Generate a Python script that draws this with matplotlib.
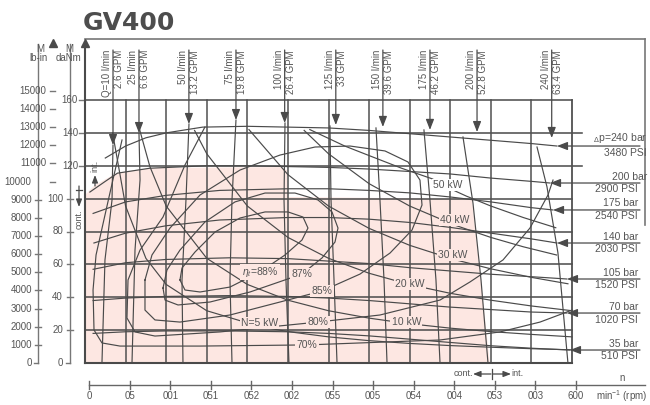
import matplotlib
matplotlib.use("Agg")
import matplotlib.pyplot as plt
from matplotlib.patches import Polygon

plt.rcParams['font.family'] = ['Liberation Sans', 'DejaVu Sans']
plt.rcParams['mathtext.fontset'] = 'custom'
plt.rcParams['mathtext.rm'] = 'Liberation Sans'
plt.rcParams['mathtext.it'] = 'Liberation Sans:italic'

# ---------------- data ----------------
title = "GV400"
rpm_ticks = [0, 50, 100, 150, 200, 250, 300, 350, 400, 450, 500, 550, 600]
rpm_tick_labels = ["0", "05", "001", "051", "052", "002", "055", "005",
                   "054", "004", "053", "003", "600"]
torque_ticks = [0, 20, 40, 60, 80, 100, 120, 140, 160]
lbin_ticks = [0, 1000, 2000, 3000, 4000, 5000, 6000, 7000, 8000, 9000,
              10000, 11000, 12000, 13000, 14000, 15000]
LBIN_TO_DANM = 0.01104

flow_lpm = [10, 25, 50, 75, 100, 125, 150, 175, 200, 240]
flow_gpm = ["2.6", "6.6", "13.2", "19.8", "26.4", "33", "39.6", "46.2", "52.8", "63.4"]
flow_arrow_rpm = [34.5, 66.5, 128, 186, 246, 309, 367, 425, 483, 575]
flow_arrow_T = [132.6, 139.9, 145.4, 147.8, 146.0, 144.8, 143.6, 141.8, 140.5, 136.9]

q10_rpm = [34.5, 33.3, 24.6, 20.9];      q10_T = [132.6, 99.2, 62.7, 0]
q25_rpm = [66.5, 67.8, 61.6, 57.9];      q25_T = [139.9, 111.3, 68.7, 0]
q50_rpm = [128.1, 124.4, 119.5, 120.7];  q50_T = [145.4, 99.2, 50.5, 0]
q75_rpm = [186.0, 181.1, 178.6, 181.1];  q75_T = [147.8, 99.2, 50.5, 0]
q100_rpm = [246.4, 245.2, 247.6, 251.3]; q100_T = [146.0, 99.2, 50.5, 0]
q125_rpm = [301.8, 303.1, 306.8, 310.5]; q125_T = [144.2, 99.2, 50.5, 0]
q150_rpm = [358.5, 363.4, 368.4, 372.1]; q150_T = [143.0, 99.2, 50.5, 0]
q175_rpm = [417.6, 425.0, 432.4, 437.4]; q175_T = [141.8, 99.2, 50.5, 0]
q200_rpm = [465.7, 478.0, 487.9, 496.5]; q200_T = [137.5, 97.3, 50.5, 0]
q240_rpm = [556.9, 569.2, 582.7, 595.0]; q240_T = [131.4, 107.1, 66.9, 0]

pressure_bar = [240, 200, 175, 140, 105, 70, 35]
pressure_psi = [3480, 2900, 2540, 2030, 1520, 1020, 510]
p240_rpm = [25, 50, 75, 100, 145, 200, 250, 300, 350, 400, 450, 500, 550, 581.5]
p240_T = [124.7, 132, 137, 140, 143.5, 144, 143.5, 143, 141.5, 139.5, 137.5, 135.5, 133.5, 132]
p200_rpm = [6, 25, 40, 80, 150, 200, 250, 300, 350, 400, 450, 500, 550, 572.9]
p200_T = [104, 110.5, 115.5, 118.5, 120, 120, 119.5, 119, 118, 116.5, 115, 112.5, 110.5, 109.5]
p175_rpm = [10, 50, 100, 166, 250, 300, 350, 400, 450, 500, 550, 576.6]
p175_T = [91, 98, 102, 105, 106, 106, 105, 103.5, 101, 98, 94.5, 93.1]
p140_rpm = [11, 50, 100, 166, 250, 300, 350, 400, 450, 500, 550, 581.5]
p140_T = [73, 79, 83.5, 87, 88.5, 88.5, 87.5, 85.5, 82.5, 79, 75.5, 73]
p105_rpm = [10, 50, 100, 178, 250, 300, 350, 400, 450, 500, 550, 593.8]
p105_T = [57, 61, 63, 64, 63.5, 62, 60.5, 58, 56, 54, 52.5, 51.1]
p70_rpm = [10, 50, 100, 178, 250, 300, 350, 400, 450, 500, 550, 593.8]
p70_T = [38, 39.5, 40.5, 41, 40.5, 39.5, 38, 36, 34, 32.5, 31, 30.4]
p35_rpm = [10, 50, 100, 178, 250, 300, 350, 400, 450, 500, 550, 597.5]
p35_T = [18, 19, 19.5, 19.5, 19, 18, 16.5, 14.5, 12.5, 10.5, 9, 7.9]

power_kw = [50, 40, 30, 20, 10, 5]
pw50_rpm = [277, 320, 351, 390, 428, 450, 470, 500, 540, 580]
pw50_T = [142, 132, 126, 118.5, 112, 106, 101.5, 95.5, 88.5, 82.3]
pw40_rpm = [270, 300, 350, 400, 456, 500, 540, 581]
pw40_T = [141.5, 127.3, 109.1, 95.5, 83.8, 76.4, 70.7, 65.7]
pw30_rpm = [202, 250, 300, 350, 400, 453, 500, 550, 595]
pw30_T = [142, 114.6, 95.5, 81.9, 71.6, 63.2, 57.3, 52.1, 48.2]
pw20_rpm = [135, 150, 200, 250, 300, 350, 400, 450, 500, 550, 600]
pw20_T = [141.5, 127.3, 95.5, 76.4, 63.7, 54.6, 47.7, 42.4, 38.2, 34.7, 31.8]
pw10_rpm = [67, 80, 100, 150, 200, 250, 300, 350, 396, 450, 500, 550, 600]
pw10_T = [142.5, 119.4, 95.5, 63.7, 47.8, 38.2, 31.8, 27.3, 24.1, 21.2, 19.1, 17.4, 15.9]
pw5_rpm = [34, 50, 75, 100, 150, 215, 250, 300, 350, 400, 450, 500, 550, 600]
pw5_T = [140, 95.5, 63.7, 47.8, 31.8, 22.2, 19.1, 15.9, 13.6, 11.9, 10.6, 9.6, 8.7, 8]
power_label_rpm = [447, 456, 453, 400, 396, 215]
power_label_T = [108.3, 87.0, 65.7, 48.0, 24.9, 24.3]

eff_pct = [88, 87, 85, 80, 70]
e88_rpm = [117, 123.2, 141.7, 178.6, 215.6, 246.4, 267.3, 274.7, 268.6, 250.1, 221.8, 191, 160.2, 135.5, 119.5, 117]
e88_T = [50.5, 44.4, 43.2, 46.2, 55.4, 65.7, 74.8, 82.1, 88.8, 91.9, 91.9, 88.2, 79.7, 67.5, 57.8, 50.5]
e87_rpm = [96.1, 98.6, 114.6, 154, 203.3, 267.3, 292, 308, 311.7, 304.3, 287, 258.7, 221.8, 184.8, 147.8, 117, 101, 96.1]
e87_T = [45.6, 38.3, 35.3, 37.1, 43.2, 54.1, 63.9, 73.6, 82.1, 91.9, 99.2, 103.4, 103.4, 98, 85.8, 68.7, 56.6, 45.6]
e85_rpm = [73.9, 73.9, 86.2, 117, 178.6, 240.2, 292, 338.8, 375.8, 402.9, 415.2, 412.7, 397.9, 369.6,
           326.5, 283.4, 240.2, 191, 141.7, 104.7, 82.5, 73.9]
e85_T = [50.5, 32.2, 26.2, 24.9, 29.2, 37.1, 43.8, 54.1, 66.9, 80.9, 96.1, 111.3, 122.3, 129,
         132, 131.4, 126.5, 117.4, 102.2, 82.1, 65.7, 50.5]
e80_rpm = [147.8, 123.2, 96.1, 67.8, 53, 51.7, 61.6, 86.2, 166.3, 287, 363.4, 437.4, 474.3, 515, 548.2, 570.4, 576.6]
e80_T = [143.6, 120.5, 88.8, 68.7, 50.5, 27.4, 18.9, 16.4, 18.9, 24.9, 29.2, 38.3, 49.3, 62.7, 82.1, 102.2, 111.3]
e70_rpm = [45.6, 29.6, 13.6, 9.9, 11.1, 20.9, 43.1, 141.7, 273.5, 437.4, 511.3, 560.6, 600]
e70_T = [135.7, 101, 65.7, 44.4, 20.1, 12.2, 10.3, 10.3, 11, 14, 18.9, 24.9, 32.2]
eff_label_rpm = [215.6, 267.3, 292, 287, 273.5]
eff_label_T = [55.4, 54.1, 43.8, 24.9, 11.0]

# continuous + intermittent operating area (shaded)
area_rpm = [0, 0, 12.3, 39.4, 80, 240, 248.8, 250, 476.6, 498.8]
area_T = [0, 102.2, 108.3, 115.6, 118.6, 119.2, 117.4, 101, 99.8, 0]

# ---------------- layout ----------------
W, H = 650, 405
PX0, PX1, PY0, PY1 = 85, 572, 363, 100     # frame pixels of 0..600 rpm, 0..160 daNm
SX = 600 / (PX1 - PX0)
SY = 160 / (PY0 - PY1)
LINE = '#4a4a4a'
GRID = '#505050'
TXT = '#555555'
PINK = '#fde7e2'
FS = 7

fig = plt.figure(figsize=(W / 100, H / 100), dpi=100)
ax = fig.add_axes([0, 0, 1, 1])
ax.set_xlim(-PX0 * SX, (W - PX0) * SX)
ax.set_ylim(-(H - PY0) * SY, PY0 * SY)
ax.axis('off')


def P(px, py):
    """layout position given in figure pixels -> data coordinates"""
    return (px - PX0) * SX, (PY0 - py) * SY


def X(px):
    return (px - PX0) * SX


def Y(py):
    return (PY0 - py) * SY


def arrow(x0, y0, x1, y1, lw=0.9, ms=7):
    ax.annotate('', xy=(x1, y1), xytext=(x0, y0),
                arrowprops=dict(arrowstyle='-|>,head_length=0.9,head_width=0.35',
                                color=LINE, lw=lw, shrinkA=0, shrinkB=0,
                                mutation_scale=ms))


# shaded area
ax.add_patch(Polygon(list(zip(area_rpm, area_T)), closed=True, fc=PINK, ec='none', zorder=0))

# grid
for t in torque_ticks:
    right = 612 if t in (140, 120) else 600
    ax.plot([0, right], [t, t], color=GRID, lw=1.15, zorder=1)
for r in rpm_ticks[1:]:
    ax.plot([r, r], [0, 160], color=GRID, lw=1.1 if r < 600 else 1.3, zorder=1)

# outer frame + main torque axis
ax.plot([0, 0], [0, Y(44)], color=LINE, lw=1.5, zorder=3)
ax.plot([0, X(645)], [Y(39), Y(39)], color='#777777', lw=1.2, zorder=3)
ax.plot([X(645), X(645)], [Y(39), Y(225)], color='#777777', lw=1.2, zorder=3)
ax.plot([0], [Y(43)], marker='^', ms=6, color=LINE, zorder=3)
ax.plot([X(53)], [Y(43)], marker='^', ms=6, color=LINE, zorder=3)
ax.plot([0, 600], [0, 0], color=LINE, lw=1.5, zorder=3)

# lb-in axis and daNm axis lines
ax.plot([X(38), X(38)], [0, Y(44)], color='#777777', lw=1.0)
ax.plot([X(70), X(70)], [0, Y(44)], color='#777777', lw=1.0)
for v in lbin_ticks:
    t = v * LBIN_TO_DANM
    if v == 0:
        ax.plot([X(34), X(38)], [t, t], color='#777777', lw=1.0)
        ax.text(X(32), t, str(v), ha='right', va='center', fontsize=FS, color=TXT)
    elif v < 10000:
        ax.plot([X(35), X(41)], [t, t], color='#777777', lw=1.0)
        ax.text(X(32), t, str(v), ha='right', va='center', fontsize=FS, color=TXT)
    else:
        ax.plot([X(50), X(55)], [t, t], color='#777777', lw=1.0)
        xr = 31 if v == 10000 else 46
        ax.text(X(xr), t, str(v), ha='right', va='center', fontsize=FS, color=TXT)
for t in torque_ticks:
    if t == 0:
        ax.plot([X(66), X(70)], [t, t], color='#777777', lw=1.0)
        ax.text(X(63), t, str(t), ha='right', va='center', fontsize=FS, color=TXT)
    elif t <= 100:
        ax.plot([X(67), X(73)], [t, t], color='#777777', lw=1.0)
        ax.text(X(63), t, str(t), ha='right', va='center', fontsize=FS, color=TXT)
    else:
        ax.plot([X(79), X(85)], [t, t], color='#777777', lw=1.0)
        ax.text(X(78), t, str(t), ha='right', va='center', fontsize=FS, color=TXT)

ax.text(*P(40, 49), "M", ha='center', va='center', fontsize=FS, color=TXT)
ax.text(*P(39, 58), "lb-in", ha='center', va='center', fontsize=FS, color=TXT)
ax.text(*P(69, 49), "M", ha='center', va='center', fontsize=FS, color=TXT)
ax.text(*P(69, 58), "daNm", ha='center', va='center', fontsize=FS, color=TXT)

ax.text(*P(83, 30), title, ha='left', va='baseline', fontsize=18, fontweight='bold',
        color='#4d4d4d', family='DejaVu Sans')

# cont./int. markers (vertical)
ax.text(*P(79, 219), "cont.", rotation=90, ha='center', va='center', fontsize=FS - 0.5, color=TXT)
arrow(X(79), Y(186), X(79), Y(207), ms=5)
ax.plot([X(76), X(82)], [Y(190), Y(190)], color=LINE, lw=0.9)
ax.text(*P(95, 166), "int.", rotation=90, ha='center', va='center', fontsize=FS - 0.5, color=TXT)
arrow(X(95), Y(186), X(95), Y(175), ms=5)

# cont./int. markers (horizontal, bottom)
ax.text(*P(473, 374), "cont.", ha='right', va='center', fontsize=FS - 0.5, color=TXT)
arrow(X(491), Y(374), X(473), Y(374), ms=5)
ax.plot([X(492), X(492)], [Y(369), Y(379)], color=LINE, lw=0.9)
arrow(X(493), Y(374), X(511), Y(374), ms=5)
ax.text(*P(511, 374), "int.", ha='left', va='center', fontsize=FS - 0.5, color=TXT)

# rpm scale
RPM_OFF = 5
ax.plot([RPM_OFF, X(645)], [Y(385), Y(385)], color='#666666', lw=1.0)
for r, lab in zip(rpm_ticks, rpm_tick_labels):
    ax.plot([r + RPM_OFF, r + RPM_OFF], [Y(381), Y(389)], color='#666666', lw=1.0)
    ax.text(r + RPM_OFF, Y(396), lab, ha='center', va='center', fontsize=FS, color=TXT)
ax.text(*P(622, 378), "n", ha='center', va='center', fontsize=FS, color=TXT)
ax.text(*P(622, 396), "min$^{-1}$ (rpm)", ha='center', va='center', fontsize=FS, color=TXT)

# pressure curves
pcurves = [(p240_rpm, p240_T), (p200_rpm, p200_T), (p175_rpm, p175_T), (p140_rpm, p140_T),
           (p105_rpm, p105_T), (p70_rpm, p70_T), (p35_rpm, p35_T)]
top_right = [647, 647, 638, 638, 638, 638, 638]
bot_right = [647, 638, 638, 638, 638, 638, 638]
for (xs, ys), bar, psi, tr, br in zip(pcurves, pressure_bar, pressure_psi, top_right, bot_right):
    ax.plot(xs, ys, color=LINE, lw=0.85, zorder=2)
    xe, ye = xs[-1], ys[-1]
    arrow(X(640), ye, xe, ye, ms=7)
    top = ("${}_{\\Delta}$p=%d bar" % bar) if bar == 240 else ("%d bar" % bar)
    ax.text(X(tr), ye + 0.9, top, ha='right', va='bottom', fontsize=FS + 0.5, color=TXT)
    ax.text(X(br), ye - 0.9, "%d PSI" % psi, ha='right', va='top', fontsize=FS + 0.5, color=TXT)

# flow curves
qcurves = [(q10_rpm, q10_T), (q25_rpm, q25_T), (q50_rpm, q50_T), (q75_rpm, q75_T),
           (q100_rpm, q100_T), (q125_rpm, q125_T), (q150_rpm, q150_T), (q175_rpm, q175_T),
           (q200_rpm, q200_T), (q240_rpm, q240_T)]
for (xs, ys), q, g, xa, ya in zip(qcurves, flow_lpm, flow_gpm, flow_arrow_rpm, flow_arrow_T):
    ax.plot(xs, ys, color=LINE, lw=0.85, zorder=2)
    arrow(xa, Y(50), xa, ya, ms=7)
    lab = ("Q=%d l/min\n%s GPM" % (q, g)) if q == 10 else ("%d l/min\n%s GPM" % (q, g))
    ax.text(xa, Y(50), lab, rotation=90, rotation_mode='anchor', ha='right', va='center',
            multialignment='right', fontsize=FS, color=TXT, linespacing=1.25)

# power curves
wcurves = [(pw50_rpm, pw50_T), (pw40_rpm, pw40_T), (pw30_rpm, pw30_T), (pw20_rpm, pw20_T),
           (pw10_rpm, pw10_T), (pw5_rpm, pw5_T)]
for (xs, ys), kw, lx, ly in zip(wcurves, power_kw, power_label_rpm, power_label_T):
    ax.plot(xs, ys, color=LINE, lw=0.85, zorder=2)
    lab = "N=%d kW" % kw if kw == 5 else "%d kW" % kw
    bg = 'white' if kw == 50 else PINK
    ax.text(lx, ly, lab, ha='center', va='center', fontsize=FS + 0.5, color=TXT, zorder=6,
            bbox=dict(boxstyle='square,pad=0.12', fc=bg, ec='none'))

# efficiency curves
ecurves = [(e88_rpm, e88_T), (e87_rpm, e87_T), (e85_rpm, e85_T), (e80_rpm, e80_T), (e70_rpm, e70_T)]
for (xs, ys), e, lx, ly in zip(ecurves, eff_pct, eff_label_rpm, eff_label_T):
    ax.plot(xs, ys, color=LINE, lw=0.85, zorder=2)
    lab = r"$\eta_t$=%d%%" % e if e == 88 else "%d%%" % e
    ax.text(lx, ly, lab, ha='center', va='center', fontsize=FS + 0.5, color=TXT, zorder=6,
            bbox=dict(boxstyle='square,pad=0.12', fc=PINK, ec='none'))

fig.savefig("out.png", dpi=100)
